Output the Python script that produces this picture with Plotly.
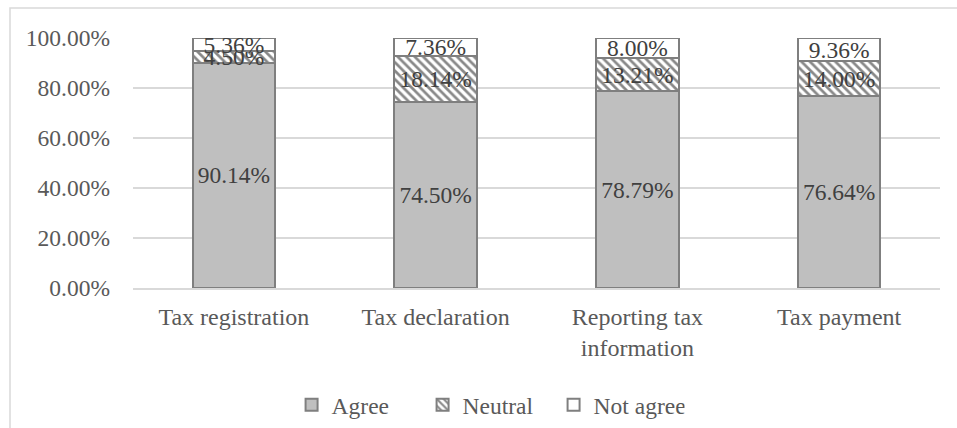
import plotly.graph_objects as go

categories = ["Tax registration", "Tax declaration", "Reporting tax<br>information", "Tax payment"]
agree = [90.14, 74.50, 78.79, 76.64]
neutral = [4.50, 18.14, 13.21, 14.00]
not_agree = [5.36, 7.36, 8.00, 9.36]
tick_vals = [0, 20, 40, 60, 80, 100]
tick_text = ["0.00%", "20.00%", "40.00%", "60.00%", "80.00%", "100.00%"]

FONT = "Liberation Serif, Times New Roman, serif"
LINE = dict(color="#7f7f7f", width=2)

fig = go.Figure()

def fmt(v):
    return [f"{x:.2f}%" for x in v]

fig.add_trace(go.Bar(
    name="Agree", x=categories, y=agree, text=fmt(agree),
    marker=dict(color="#bfbfbf", line=LINE),
))
fig.add_trace(go.Bar(
    name="Neutral", x=categories, y=neutral, text=fmt(neutral),
    marker=dict(color="white", line=LINE,
                pattern=dict(shape="\\", fgcolor="#111111", bgcolor="white", size=6, solidity=0.45)),
))
fig.add_trace(go.Bar(
    name="Not agree", x=categories, y=not_agree, text=fmt(not_agree),
    marker=dict(color="white", line=LINE),
))

fig.update_traces(textposition="inside", insidetextanchor="middle", textangle=0,
                  constraintext="none",
                  textfont=dict(family=FONT, size=23.5, color="#404040"))

fig.update_layout(
    barmode="stack",
    bargap=0.59,
    width=957, height=428,
    margin=dict(l=133, r=17, t=38, b=140, autoexpand=False),
    paper_bgcolor="white", plot_bgcolor="white",
    font=dict(family=FONT, size=23.5, color="#595959"),
    xaxis=dict(showgrid=False, showline=True, linecolor="#d9d9d9", linewidth=1.5,
               automargin=False,
               ticks="", ticklabelstandoff=6, tickfont=dict(size=24, color="#595959")),
    yaxis=dict(range=[0, 100], tickvals=tick_vals, ticktext=tick_text, automargin=False,
               showgrid=True, gridcolor="#d9d9d9", gridwidth=1.5, zeroline=False,
               showline=False, ticks="", ticklen=0, ticklabelstandoff=22,
               tickfont=dict(size=23.5, color="#595959")),
    legend=dict(orientation="h", x=0.44, xanchor="center",
                yref="container", y=(428 - 405) / 428, yanchor="middle",
                font=dict(size=23.5, color="#595959"), itemwidth=30,
                entrywidth=86, entrywidthmode="pixels",
                traceorder="normal", itemsizing="constant"),
    showlegend=True,
    shapes=[dict(type="rect", xref="paper", yref="paper",
                 x0=(10 - 133) / 807, x1=1.2, y0=-1.0, y1=(288 - 8) / 250,
                 line=dict(color="#d9d9d9", width=1.5), fillcolor="rgba(0,0,0,0)", layer="below")],
)

fig.write_html("out.html")
